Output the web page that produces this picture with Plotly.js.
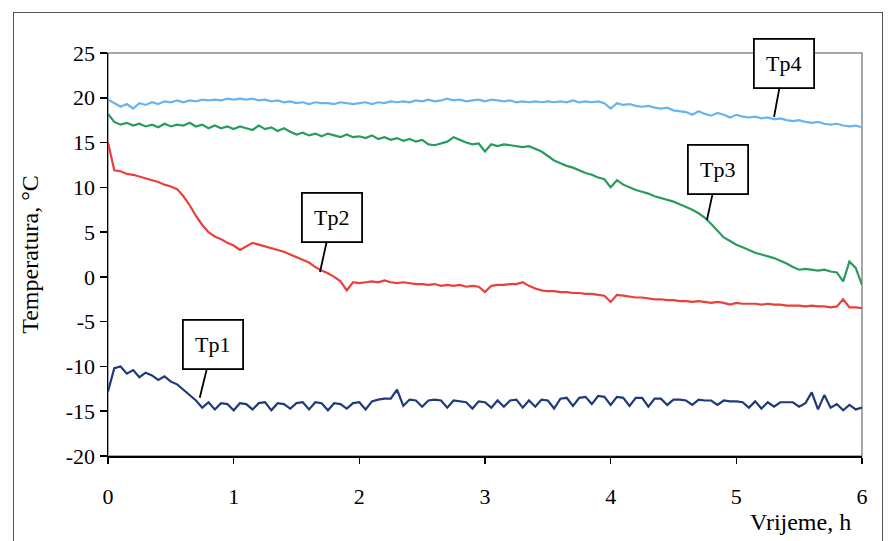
<!DOCTYPE html>
<html>
<head>
<meta charset="utf-8">
<script src="https://cdn.plot.ly/plotly-3.0.1.min.js"></script>
<style>
  html, body { margin: 0; padding: 0; background: #ffffff; }
  #wrap { position: relative; width: 889px; height: 541px; overflow: hidden; }
  #chart { width: 889px; height: 541px; }
  #frame { position: absolute; left: 13px; top: 12px; width: 868px; height: 540px;
           border: 1.5px solid #555; pointer-events: none; }
</style>
</head>
<body>
<div id="wrap">
  <div id="chart"></div>
  <div id="frame"></div>
</div>
<script>
// time, hours
const timeH = [0,0.05,0.1,0.15,0.2,0.25,0.3,0.35,0.4,0.45,0.5,0.55,0.6,0.65,0.7,0.75,0.8,0.85,0.9,0.95,
  1,1.05,1.1,1.15,1.2,1.25,1.3,1.35,1.4,1.45,1.5,1.55,1.6,1.65,1.7,1.75,1.8,1.85,1.9,1.95,
  2,2.05,2.1,2.15,2.2,2.25,2.3,2.35,2.4,2.45,2.5,2.55,2.6,2.65,2.7,2.75,2.8,2.85,2.9,2.95,
  3,3.05,3.1,3.15,3.2,3.25,3.3,3.35,3.4,3.45,3.5,3.55,3.6,3.65,3.7,3.75,3.8,3.85,3.9,3.95,
  4,4.05,4.1,4.15,4.2,4.25,4.3,4.35,4.4,4.45,4.5,4.55,4.6,4.65,4.7,4.75,4.8,4.85,4.9,4.95,
  5,5.05,5.1,5.15,5.2,5.25,5.3,5.35,5.4,5.45,5.5,5.55,5.6,5.65,5.7,5.75,5.8,5.85,5.9,5.95,6];

const tp1 = [-12.8,-10.2,-10.0,-10.8,-10.4,-11.2,-10.7,-11.0,-11.5,-11.1,-11.7,-12.0,-12.6,-13.2,-13.8,-14.6,-14.0,-14.8,-14.1,-14.2,
  -14.9,-14.1,-14.2,-14.8,-14.1,-14.0,-14.9,-14.1,-14.2,-14.7,-14.1,-14.0,-14.8,-14.0,-14.1,-14.9,-14.1,-14.2,-14.7,-14.1,
  -14.0,-14.8,-13.9,-13.7,-13.6,-13.6,-12.6,-14.4,-13.7,-13.8,-14.5,-13.8,-13.7,-13.8,-14.6,-13.8,-13.9,-14.0,-14.7,-13.9,
  -14.0,-14.6,-13.8,-14.5,-13.8,-13.7,-14.6,-13.8,-14.5,-13.7,-13.8,-14.7,-13.6,-13.5,-14.4,-13.5,-13.4,-14.2,-13.3,-13.4,
  -14.3,-13.4,-13.5,-14.4,-13.5,-13.5,-14.5,-13.6,-13.6,-14.3,-13.7,-13.7,-13.8,-14.3,-13.7,-13.8,-13.8,-14.3,-13.8,-13.9,
  -13.9,-14.0,-14.6,-13.9,-14.7,-14.0,-14.5,-14.0,-14.0,-14.0,-14.5,-14.1,-12.9,-14.8,-13.2,-14.6,-14.2,-14.9,-14.3,-14.8,-14.6];

const tp2 = [15.0,11.9,11.8,11.5,11.4,11.2,11.0,10.8,10.6,10.3,10.1,9.8,9.0,8.0,6.8,5.8,5.0,4.5,4.2,3.8,
  3.5,3.0,3.4,3.8,3.6,3.4,3.2,3.0,2.8,2.5,2.2,1.9,1.6,1.1,0.7,0.4,0.0,-0.5,-1.5,-0.6,
  -0.7,-0.6,-0.5,-0.6,-0.4,-0.6,-0.7,-0.6,-0.7,-0.8,-0.8,-0.9,-0.8,-1.0,-0.9,-1.0,-0.9,-1.1,-1.0,-1.1,
  -1.7,-1.0,-0.9,-0.9,-0.8,-0.8,-0.6,-1.0,-1.3,-1.5,-1.6,-1.6,-1.7,-1.7,-1.8,-1.8,-1.9,-1.9,-2.0,-2.1,
  -2.8,-2.0,-2.1,-2.2,-2.3,-2.3,-2.4,-2.5,-2.5,-2.6,-2.6,-2.7,-2.7,-2.8,-2.7,-2.8,-2.9,-2.8,-2.9,-3.1,
  -2.9,-3.0,-3.0,-3.0,-3.1,-3.0,-3.1,-3.1,-3.2,-3.2,-3.2,-3.3,-3.2,-3.3,-3.3,-3.4,-3.3,-2.5,-3.4,-3.4,-3.5];

const tp3 = [18.2,17.3,17.0,17.2,16.9,17.1,16.8,17.0,16.7,17.1,16.8,17.0,16.9,17.2,16.8,17.0,16.6,16.9,16.6,16.8,
  16.5,16.8,16.6,16.4,16.9,16.5,16.7,16.3,16.6,16.2,15.9,16.1,15.8,16.0,15.7,16.0,15.8,15.6,15.9,15.6,
  15.7,15.5,15.8,15.4,15.6,15.3,15.5,15.2,15.4,15.1,15.3,14.8,14.7,14.9,15.1,15.6,15.3,15.0,14.8,14.9,
  14.0,14.8,14.6,14.8,14.7,14.6,14.5,14.6,14.3,14.0,13.5,13.0,12.7,12.4,12.2,11.9,11.6,11.4,11.1,10.9,
  10.0,10.8,10.3,10.0,9.7,9.5,9.3,9.0,8.8,8.6,8.4,8.1,7.8,7.5,7.1,6.6,5.9,5.1,4.4,4.0,
  3.6,3.3,3.0,2.7,2.5,2.3,2.1,1.8,1.5,1.1,0.8,0.9,0.8,0.7,0.8,0.6,0.5,-0.5,1.7,1.0,-0.9];

const tp4 = [19.8,19.4,19.0,19.3,18.8,19.4,19.2,19.5,19.3,19.6,19.5,19.7,19.5,19.7,19.6,19.8,19.7,19.8,19.7,19.9,
  19.8,19.9,19.8,19.9,19.7,19.8,19.6,19.7,19.5,19.6,19.4,19.5,19.3,19.5,19.4,19.4,19.3,19.5,19.4,19.3,
  19.4,19.5,19.3,19.5,19.4,19.6,19.5,19.6,19.5,19.7,19.6,19.8,19.6,19.7,19.9,19.7,19.8,19.6,19.7,19.8,
  19.6,19.8,19.7,19.6,19.7,19.5,19.6,19.5,19.6,19.5,19.6,19.5,19.6,19.5,19.7,19.5,19.6,19.5,19.6,19.4,
  18.8,19.4,19.2,19.3,19.1,19.0,19.1,18.9,18.8,18.9,18.6,18.5,18.4,18.1,18.5,18.2,18.0,18.3,18.1,17.8,
  18.1,17.9,17.8,17.9,17.7,17.8,17.6,17.7,17.5,17.4,17.5,17.3,17.2,17.3,17.1,17.0,17.1,16.9,16.8,16.9,16.7];

const seriesNames = ["Tp1", "Tp2", "Tp3", "Tp4"];
const seriesColors = ["#1f3a7a", "#e8403a", "#2a9a5e", "#66b4f0"];
const seriesValues = [tp1, tp2, tp3, tp4];

const xTicks = [0, 1, 2, 3, 4, 5, 6];
const yTicks = [-20, -15, -10, -5, 0, 5, 10, 15, 20, 25];

// label anchors: [time, temperature] on each curve
const labelAt = [[0.73, -13.5], [1.687, 0.55], [4.766, 6.35], [5.30, 17.85]];
const labelOffset = [[13, -53], [12, -54], [11, -51], [10, -54]];

const serif = "'Liberation Serif', 'DejaVu Serif', serif";

const traces = seriesValues.map((vals, i) => ({
  type: "scatter",
  mode: "lines",
  name: seriesNames[i],
  x: timeH,
  y: vals,
  line: { color: seriesColors[i], width: 2.2 },
  hoverinfo: "skip"
}));

const annotations = seriesNames.map((n, i) => ({
  x: labelAt[i][0], y: labelAt[i][1], xref: "x", yref: "y",
  text: n, showarrow: true, arrowhead: 0, arrowwidth: 1.8, arrowcolor: "#000",
  ax: labelOffset[i][0], ay: labelOffset[i][1], standoff: 0,
  font: { family: serif, size: 22, color: "#000" },
  bgcolor: "#ffffff", bordercolor: "#000", borderwidth: 1.8, borderpad: 1,
  width: 56, height: 45
}));

annotations.push({
  xref: "paper", yref: "paper", x: 0.919, y: -0.164,
  xanchor: "center", yanchor: "middle", showarrow: false,
  text: "Vrijeme, h", font: { family: serif, size: 24, color: "#000" }
});

const layout = {
  width: 889, height: 541,
  margin: { l: 108, r: 27, t: 53, b: 85 },
  paper_bgcolor: "#ffffff", plot_bgcolor: "#ffffff",
  showlegend: false,
  font: { family: serif, size: 22, color: "#000" },
  xaxis: {
    range: [0, 6], tickvals: xTicks, ticktext: xTicks.map(String),
    showgrid: false, zeroline: false, showline: true, linecolor: "#000", linewidth: 1.5,
    ticks: "outside", ticklen: 6, tickcolor: "#000", tickwidth: 1.5,
    ticklabelstandoff: 14,
    tickfont: { family: serif, size: 22, color: "#000" }
  },
  yaxis: {
    range: [-20, 25], tickvals: yTicks, ticktext: yTicks.map(String),
    showgrid: false, zeroline: false, showline: true, linecolor: "#000", linewidth: 1.5,
    ticks: "outside", ticklen: 7, tickcolor: "#000", tickwidth: 1.5,
    tickfont: { family: serif, size: 22, color: "#000" },
    title: { text: "Temperatura, °C", standoff: 20, font: { family: serif, size: 24, color: "#000" } }
  },
  shapes: [{
    type: "rect", xref: "paper", yref: "paper", x0: 0, x1: 1, y0: 0, y1: 1,
    line: { color: "#8a8a8a", width: 1.5 }, layer: "below"
  }],
  annotations: annotations
};

Plotly.newPlot("chart", traces, layout, { staticPlot: true, displayModeBar: false });
</script>
</body>
</html>
